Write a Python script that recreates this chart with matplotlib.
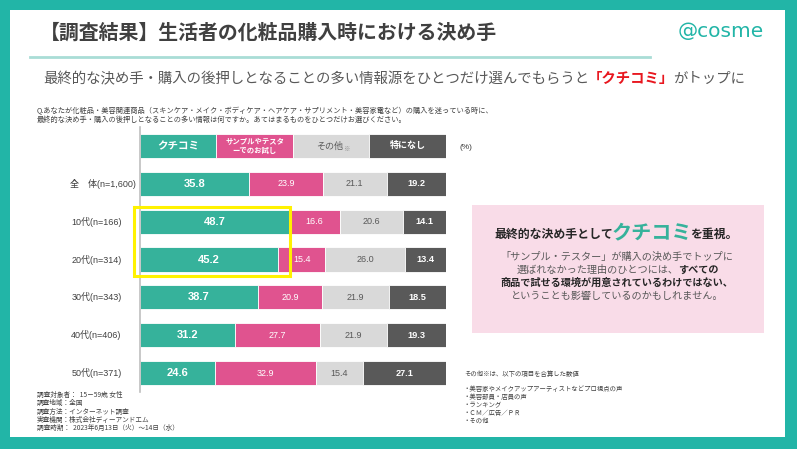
import matplotlib
matplotlib.use("Agg")
import matplotlib.pyplot as plt
from matplotlib.patches import Rectangle

plt.rcParams['font.family'] = ['Noto Sans CJK JP', 'DejaVu Sans']
NUMFONT = ['Liberation Sans', 'Noto Sans CJK JP']

W, H = 797, 449

# data (%)
groups = ["全　体(n=1,600)", "10代(n=166)", "20代(n=314)",
          "30代(n=343)", "40代(n=406)", "50代(n=371)"]
kuchikomi = [35.8, 48.7, 45.2, 38.7, 31.2, 24.6]
sample = [23.9, 16.6, 15.4, 20.9, 27.7, 32.9]
other = [21.1, 20.6, 26.0, 21.9, 21.9, 15.4]
nothing = [19.2, 14.1, 13.4, 18.5, 19.3, 27.1]
header_labels = ["クチコミ", "サンプルやテスタ\nーでのお試し", "その他", "特になし"]

TEAL = "#36B29B"
PINK = "#E0538F"
LGRAY = "#D9D9D9"
DGRAY = "#595959"
FRAME = "#22B5A7"
TXT = "#404040"


def fx(x):
    return x / W


def fy(y):
    return 1 - y / H


fig = plt.figure(figsize=(W / 100, H / 100), dpi=100)
fig.patch.set_facecolor(FRAME)
fig.patches.append(Rectangle((fx(10), fy(437)), fx(775), (427) / H,
                             transform=fig.transFigure, facecolor="white",
                             edgecolor="none", zorder=-2))
renderer = fig.canvas.get_renderer()


def rich(pieces, x, y, align="left", pad=0.0):
    # pieces: (text, color, weight, size)
    objs = []
    for s, c, w, sz in pieces:
        t = fig.text(0, fy(y), s, color=c, fontweight=w, fontsize=sz,
                     ha="left", va="baseline")
        objs.append(t)
    widths = [t.get_window_extent(renderer).width + pad for t in objs]
    total = sum(widths)
    start = x - total / 2 if align == "center" else x
    for t, w in zip(objs, widths):
        t.set_x(fx(start))
        start += w


# title area
fig.text(fx(40), fy(32), "【調査結果】生活者の化粧品購入時における決め手",
         fontsize=14.3, fontweight="bold", color=TXT, va="center")
fig.text(fx(764), fy(31), "@cosme", fontsize=14.5, color=FRAME,
         ha="right", va="center", family="DejaVu Sans")
fig.add_artist(plt.Line2D([fx(30), fx(650)], [fy(57), fy(57)],
                          color="#A9DDD6", lw=2, transform=fig.transFigure))
rich([("最終的な決め手・購入の後押しとなることの多い情報源をひとつだけ選んでもらうと", "#595959", "normal", 10.4),
      ("「クチコミ」", "#E8161E", "bold", 10.4),
      ("がトップに", "#595959", "normal", 10.4)], 43, 83, pad=-1)

fig.text(fx(37), fy(111),
         "Q.あなたが化粧品・美容関連商品（スキンケア・メイク・ボディケア・ヘアケア・サプリメント・美容家電など）の購入を迷っている時に、",
         fontsize=5.2, color=TXT, va="center")
fig.text(fx(37), fy(120),
         "最終的な決め手・購入の後押しとなることの多い情報は何ですか。あてはまるものをひとつだけお選びください。",
         fontsize=5.2, color=TXT, va="center")

# bar chart
ax = fig.add_axes([fx(140), fy(392), 305.7 / W, 265 / H])
ax.set_xlim(0, 100)
ax.set_ylim(6.5, -0.5)
for s in ["top", "right", "bottom"]:
    ax.spines[s].set_visible(False)
ax.spines["left"].set_color("#BFBFBF")
ax.spines["left"].set_linewidth(1.2)
ax.set_xticks([])
ax.set_yticks([])
ax.patch.set_alpha(0)

colors = [TEAL, PINK, LGRAY, DGRAY]
bh = 0.64

# header row
left = 0
for i, lab in enumerate(header_labels):
    ax.barh(0, 25, left=left, height=bh, color=colors[i], edgecolor="white", lw=0.6)
    if i == 0:
        ax.text(left + 12.5, 0, lab, color="white", fontweight="bold",
                fontsize=7.6, ha="center", va="center")
    elif i == 1:
        ax.text(left + 12.5, 0, lab, color="white", fontweight="bold",
                fontsize=5.3, ha="center", va="center", linespacing=1.3)
    elif i == 2:
        ax.text(left + 12.0, 0, lab, color="#595959",
                fontsize=6.5, ha="center", va="center")
        ax.text(left + 16.4, 0.08, "※", color="#8C8C8C",
                fontsize=4.6, ha="left", va="center")
    else:
        ax.text(left + 12.5, 0, lab, color="white", fontweight="bold",
                fontsize=6.5, ha="center", va="center")
    left += 25
ax.text(104.5, 0.05, "(%)", fontsize=6, color=TXT, ha="left", va="center",
        family=NUMFONT)

rows = list(range(1, len(groups) + 1))
series = [kuchikomi, sample, other, nothing]
styles = [("white", "bold", 8.0), ("white", "normal", 6.5),
          ("#595959", "normal", 6.5), ("white", "bold", 6.6)]
lefts = [0] * len(groups)
for vals, col, (tc, tw, ts) in zip(series, colors, styles):
    ax.barh(rows, vals, left=lefts, height=bh, color=col,
            edgecolor="white", lw=0.6)
    for r, l, v in zip(rows, lefts, vals):
        ax.text(l + v / 2, r, f"{v:.1f}", color=tc, fontweight=tw,
                fontsize=ts, ha="center", va="center", family=NUMFONT)
    lefts = [l + v for l, v in zip(lefts, vals)]

for r, g in zip(rows, groups):
    xpos = -1.3 if r == 1 else -6.0
    ax.text(xpos, r, g, fontsize=6.5, color=TXT, ha="right", va="center",
            family=NUMFONT)

# highlight box around teens / twenties
ax.add_patch(Rectangle((-2.0, 1.61), 51.1, 1.83, fill=False,
                       edgecolor="#FFF200", lw=2.2, clip_on=False, zorder=5))

# pink comment box
fig.patches.append(Rectangle((fx(472), fy(333)), 292 / W, 128 / H,
                             transform=fig.transFigure, facecolor="#F9DCE8",
                             edgecolor="none", zorder=1))
rich([("最終的な決め手として", "#262626", "bold", 8.6),
      ("クチコミ", TEAL, "bold", 14.5),
      ("を重視。", "#262626", "bold", 8.6)], 615, 238, align="center", pad=-2)
bs = 7.3
rich([("「サンプル・テスター」が購入の決め手でトップに", "#595959", "normal", bs)],
     617, 260, align="center")
rich([("選ばれなかった理由のひとつには、", "#595959", "normal", bs),
      ("すべての", "#262626", "bold", bs)], 617, 273, align="center", pad=-1)
rich([("商品で試せる環境が用意されているわけではない、", "#262626", "bold", bs)],
     617, 286, align="center")
rich([("ということも影響しているのかもしれません。", "#595959", "normal", bs)],
     617, 299, align="center")

# notes
notes_left = ["調査対象者：  15－59歳 女性", "調査地域：全国", "調査方法：インターネット調査",
              "実査機関：株式会社ディーアンドエム", "調査時期：  2023年6月13日（火）～14日（水）"]
for i, s in enumerate(notes_left):
    fig.text(fx(37), fy(395 + i * 8.3), s, fontsize=4.8, color=TXT, va="center")

fig.text(fx(464), fy(374), "その他※は、以下の項目を合算した数値", fontsize=4.6,
         color=TXT, va="center")
notes_right = ["・美容家やメイクアップアーティストなどプロ視点の声", "・美容部員・店員の声",
               "・ランキング", "・ＣＭ／広告／ＰＲ", "・その他"]
for i, s in enumerate(notes_right):
    fig.text(fx(464), fy(389 + i * 8), s, fontsize=4.6, color=TXT, va="center")

fig.savefig("out.png", dpi=100, facecolor=fig.get_facecolor())
